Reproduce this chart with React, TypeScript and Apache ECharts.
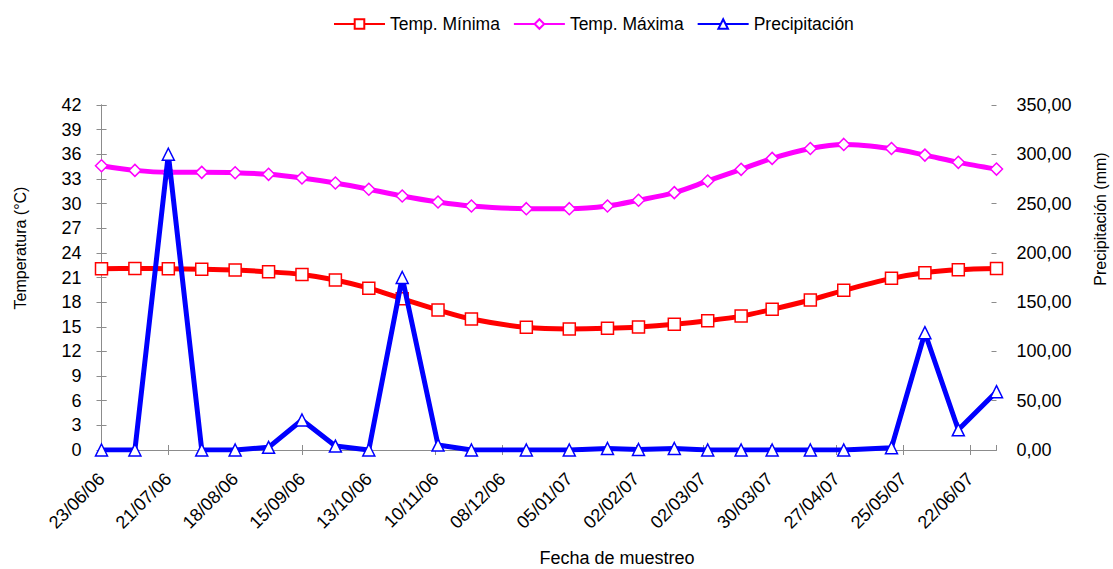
import React, { useEffect, useRef } from "react";
import * as echarts from "echarts";

// Sampling dates (yyyy-mm-dd)
const sampleDates = [
  "2006-06-23", "2006-07-07", "2006-07-21", "2006-08-04", "2006-08-18",
  "2006-09-01", "2006-09-15", "2006-09-29", "2006-10-13", "2006-10-27",
  "2006-11-11", "2006-11-25", "2006-12-18", "2007-01-05", "2007-01-21",
  "2007-02-03", "2007-02-18", "2007-03-04", "2007-03-18", "2007-03-31",
  "2007-04-16", "2007-04-30", "2007-05-20", "2007-06-03", "2007-06-17",
  "2007-07-03",
];

const tempMin = [
  22.07, 22.1, 22.06, 22.0, 21.9, 21.7, 21.37, 20.7, 19.7, 18.4,
  17.05, 15.95, 14.93, 14.73, 14.81, 14.97, 15.3, 15.74, 16.3, 17.12,
  18.26, 19.44, 20.9, 21.59, 21.95, 22.1,
];

const tempMax = [
  34.6, 34.04, 33.8, 33.8, 33.76, 33.56, 33.11, 32.5, 31.75, 30.92,
  30.19, 29.7, 29.38, 29.38, 29.7, 30.4, 31.33, 32.75, 34.17, 35.5,
  36.7, 37.2, 36.7, 35.9, 35.02, 34.2,
];

const precipitation = [
  0, 0, 300, 0, 0, 2.7, 30.4, 4, 0, 175,
  5, 0, 0, 0, 1.5, 0.5, 1.5, 0, 0, 0,
  0, 0, 2.4, 119, 20.5, 59.2,
];

const seriesNames = ["Temp. Mínima", "Temp. Máxima", "Precipitación"];
const axisTitles = ["Temperatura (°C)", "Precipitación (mm)", "Fecha de muestreo"];

const BASE = Date.UTC(2006, 5, 23);
const DAY = 86400000;
const toDay = (s: string) => {
  const [y, m, d] = s.split("-").map(Number);
  return Math.round((Date.UTC(y, m - 1, d) - BASE) / DAY);
};
const pad = (n: number) => (n < 10 ? "0" + n : "" + n);
const fmtDay = (v: number) => {
  const dt = new Date(BASE + v * DAY);
  return pad(dt.getUTCDate()) + "/" + pad(dt.getUTCMonth() + 1) + "/" + pad(dt.getUTCFullYear() % 100);
};

const FONT = "'Liberation Sans', Arial, sans-serif";
const TICK_FONT = 18;

export default function App() {
  const ref = useRef<HTMLDivElement>(null);

  useEffect(() => {
    if (!ref.current) return;
    const chart = echarts.init(ref.current, undefined, { renderer: "svg" });
    const days = sampleDates.map(toDay);
    const lastDay = days[days.length - 1];
    const pair = (arr: number[]) => arr.map((v, i) => [days[i], v]);

    const axisLine = { show: true, lineStyle: { color: "#8c8c8c", width: 1 } };
    const tickOut = { show: true, length: 5, lineStyle: { color: "#8c8c8c" } };
    const tickIn = { show: true, inside: true, length: 5, lineStyle: { color: "#8c8c8c" } };

    const xBase = {
      type: "value",
      min: 0,
      max: lastDay,
      interval: 28,
      position: "bottom",
      splitLine: { show: false },
    };
    const yLeftBase = { type: "value", min: 0, max: 42, interval: 3, position: "left", splitLine: { show: false } };
    const yRightBase = { type: "value", min: 0, max: 350, interval: 50, position: "right", splitLine: { show: false } };

    chart.setOption({
      animation: false,
      textStyle: { fontFamily: FONT },
      legend: {
        left: 328,
        top: 10,
        itemWidth: 51,
        itemHeight: 12,
        itemGap: 13,
        textStyle: { fontSize: 17.5, color: "#000", fontFamily: FONT },
        data: seriesNames,
      },
      grid: { left: 101.5, right: 116.5, top: 105, bottom: 119, containLabel: false },
      xAxis: [
        {
          ...xBase,
          axisLine,
          axisTick: tickOut,
          axisLabel: {
            rotate: 45,
            margin: 26,
            fontSize: TICK_FONT,
            color: "#000",
            fontFamily: FONT,
            showMaxLabel: false,
            formatter: (v: number) => fmtDay(v),
          },
        },
        {
          ...xBase,
          axisLine: { show: false },
          axisTick: tickIn,
          axisLabel: { show: false },
        },
      ],
      yAxis: [
        {
          ...yLeftBase,
          axisLine,
          axisTick: tickOut,
          axisLabel: { fontSize: TICK_FONT, color: "#000", margin: 20, fontFamily: FONT },
        },
        {
          ...yRightBase,
          axisLine,
          axisTick: tickOut,
          axisLabel: {
            fontSize: TICK_FONT,
            color: "#000",
            margin: 20,
            fontFamily: FONT,
            formatter: (v: number) => v.toFixed(2).replace(".", ","),
          },
        },
        { ...yLeftBase, axisLine: { show: false }, axisTick: tickIn, axisLabel: { show: false } },
        { ...yRightBase, axisLine: { show: false }, axisTick: tickIn, axisLabel: { show: false } },
      ],
      graphic: [
        {
          type: "text",
          x: 20,
          y: 248,
          rotation: Math.PI / 2,
          style: {
            text: axisTitles[0],
            fontSize: 16,
            fontFamily: FONT,
            fill: "#000",
            align: "center",
            verticalAlign: "middle",
          },
        },
        {
          type: "text",
          x: 1100,
          y: 219,
          rotation: Math.PI / 2,
          style: {
            text: axisTitles[1],
            fontSize: 16,
            fontFamily: FONT,
            fill: "#000",
            align: "center",
            verticalAlign: "middle",
          },
        },
        {
          type: "text",
          x: 617,
          y: 558,
          style: {
            text: axisTitles[2],
            fontSize: 18,
            fontFamily: FONT,
            fill: "#000",
            align: "center",
            verticalAlign: "middle",
          },
        },
      ],
      series: [
        {
          name: seriesNames[0],
          type: "line",
          xAxisIndex: 0,
          yAxisIndex: 0,
          data: pair(tempMin),
          smooth: 0.3,
          symbol: "rect",
          symbolSize: 12,
          lineStyle: { color: "#ff0000", width: 5 },
          itemStyle: { color: "#ffffff", borderColor: "#ff0000", borderWidth: 1.5 },
          z: 3,
        },
        {
          name: seriesNames[1],
          type: "line",
          xAxisIndex: 0,
          yAxisIndex: 0,
          data: pair(tempMax),
          smooth: 0.3,
          symbol: "diamond",
          symbolSize: 12,
          lineStyle: { color: "#ff00ff", width: 5 },
          itemStyle: { color: "#ffffff", borderColor: "#ff00ff", borderWidth: 1.5 },
          z: 3,
        },
        {
          name: seriesNames[2],
          type: "line",
          xAxisIndex: 0,
          yAxisIndex: 1,
          data: pair(precipitation),
          symbol: "triangle",
          symbolSize: 12,
          lineStyle: { color: "#0000ff", width: 5 },
          itemStyle: { color: "#ffffff", borderColor: "#0000ff", borderWidth: 1.5 },
          z: 4,
        },
      ],
    });

    return () => chart.dispose();
  }, []);

  return (
    <div
      ref={ref}
      style={{ position: "absolute", left: 0, top: 0, width: 1113, height: 569, background: "#fff" }}
    />
  );
}
